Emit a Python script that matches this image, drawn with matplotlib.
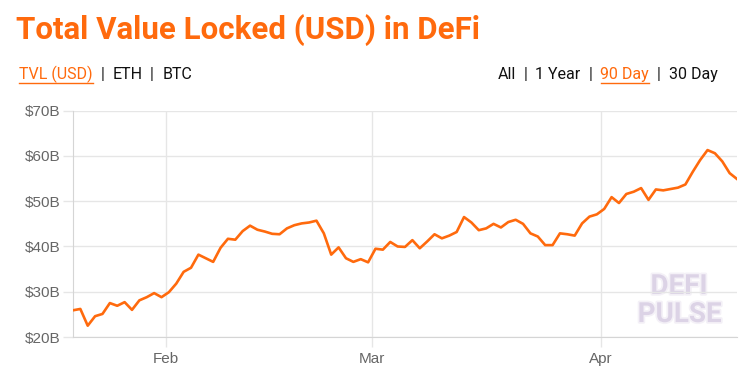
import pandas as pd
import matplotlib
matplotlib.use('Agg')
import matplotlib.pyplot as plt
import matplotlib.dates as mdates
import matplotlib.patheffects as pe
from matplotlib.lines import Line2D

# TVL in billions USD, one value per day (90 day view)
start_date = '2021-01-19 10:00'
tvl_billion = [
    25.9, 26.2, 22.5, 24.6, 25.1, 27.5, 26.9, 27.7, 26.0, 28.1,
    28.8, 29.7, 28.8, 29.9, 31.8, 34.4, 35.3, 38.2, 37.4, 36.6,
    39.7, 41.7, 41.5, 43.4, 44.6, 43.7, 43.3, 42.8, 42.7, 44.0,
    44.7, 45.1, 45.3, 45.7, 42.9, 38.2, 39.8, 37.4, 36.6, 37.2,
    36.5, 39.5, 39.3, 41.0, 40.0, 39.9, 41.4, 39.6, 41.1, 42.7,
    41.8, 42.4, 43.2, 46.5, 45.3, 43.6, 44.0, 45.0, 44.2, 45.4,
    45.9, 45.0, 42.9, 42.2, 40.3, 40.3, 42.9, 42.7, 42.4, 45.1,
    46.6, 47.1, 48.3, 50.9, 49.6, 51.6, 52.1, 52.9, 50.3, 52.6,
    52.4, 52.7, 53.0, 53.7, 56.5, 59.1, 61.3, 60.6, 58.8, 56.2,
    54.9,
]
y_ticks = [20, 30, 40, 50, 60, 70]
title = 'Total Value Locked (USD) in DeFi'
left_links = ['TVL (USD)', 'ETH', 'BTC']
right_links = ['All', '1 Year', '90 Day', '30 Day']

dates = pd.date_range(start_date, periods=len(tvl_billion), freq='D')

plt.rcParams['font.family'] = ['Liberation Sans', 'DejaVu Sans']

orange = '#ff6a0d'
grid_c = '#e6e6e6'
tick_c = '#666666'

fig = plt.figure(figsize=(7.53, 3.76), dpi=100)
ax = fig.add_axes([0.0969, 0.1037, 0.8819, 0.6019])

ax.plot(dates, tvl_billion, color=orange, lw=1.9, zorder=3)
ax.set_xlim(dates[0], dates[-1])
ax.set_ylim(20, 70)
ax.set_yticks(y_ticks)
ax.set_yticklabels(['$%dB' % t for t in y_ticks])
ax.xaxis.set_major_locator(mdates.MonthLocator(bymonth=[2, 3, 4]))
ax.xaxis.set_major_formatter(mdates.DateFormatter('%b'))

ax.grid(True, color=grid_c, lw=1)
for s in ['top', 'right']:
    ax.spines[s].set_visible(False)
ax.spines['left'].set_color('#d5d5d5')
ax.spines['bottom'].set_color('#d5d5d5')
ax.tick_params(axis='both', colors=grid_c, length=7, width=1, labelcolor=tick_c,
               labelsize=11)
ax.tick_params(axis='y', pad=2)
ax.tick_params(axis='x', pad=4)

# header
fig.text(16 / 753, 0.8955, title, color=orange, fontsize=22.5, fontweight='bold',
         family='Roboto', va='baseline')

def link_row(parts, highlight, x0, y, align='left', size=11.5):
    pieces = []
    for i, p in enumerate(parts):
        if i > 0:
            pieces.append(('  |  ', False))
        pieces.append((p, p == highlight))
    fig.canvas.draw()
    r = fig.canvas.get_renderer()
    widths = []
    for s, _ in pieces:
        t = fig.text(0, 0, s.replace(' ', '\u00a0'), fontsize=size, family='Roboto')
        widths.append(t.get_window_extent(r).width / fig.bbox.width)
        t.remove()
    total = sum(widths)
    x = x0 if align == 'left' else x0 - total
    for (s, hl), w in zip(pieces, widths):
        fig.text(x, y, s.replace(' ', '\u00a0'), fontsize=size, family='Roboto',
                 color=orange if hl else '#111111', va='baseline')
        if hl:
            fig.add_artist(Line2D([x, x + w], [y - 0.009, y - 0.009],
                                  color=orange, lw=1.0, transform=fig.transFigure))
        x += w

link_row(left_links, 'TVL (USD)', 19 / 753, 0.789)
link_row(right_links, '90 Day', 718 / 753, 0.789, align='right')

# watermark
wm = dict(color='#dcd3e6', fontsize=20, fontweight='bold', family='Roboto',
          ha='center', va='baseline', transform=ax.transAxes,
          path_effects=[pe.withStroke(linewidth=2.5, foreground='#f4f1f7')])
ax.text(0.9127, 0.190, 'DEFI', zorder=1, **wm)
ax.text(0.9135, 0.066, 'PULSE', zorder=1, **wm)

fig.savefig('out.png', dpi=100)
